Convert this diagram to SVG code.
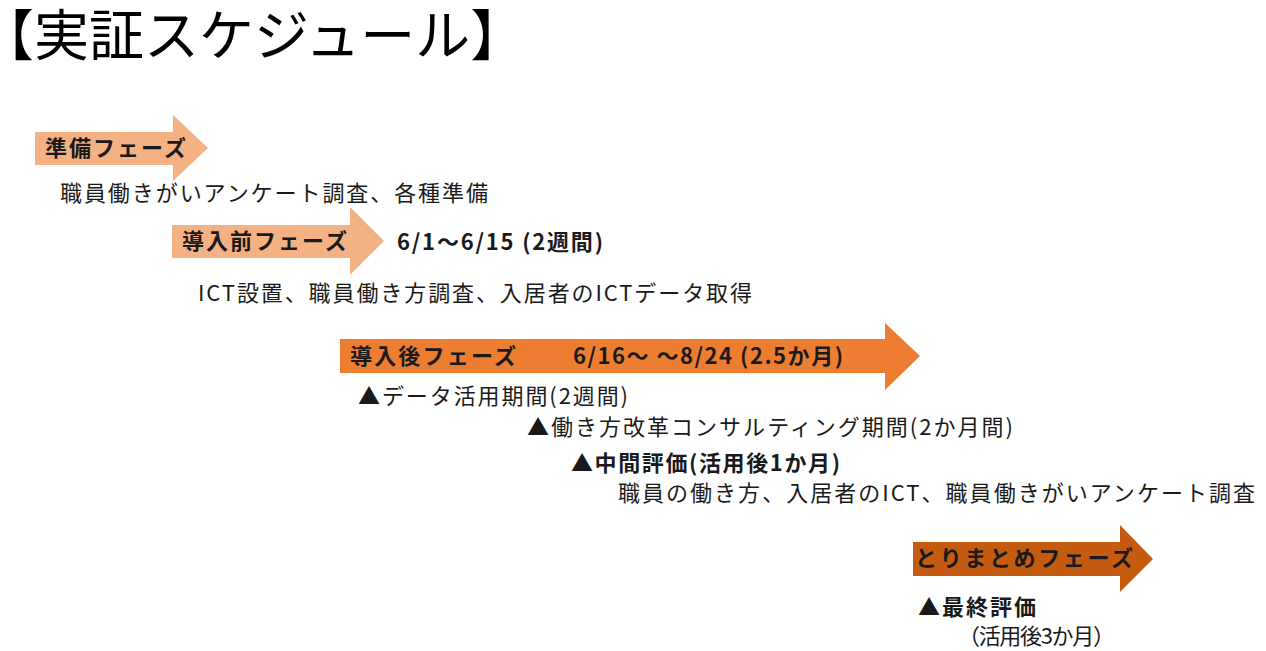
<svg xmlns="http://www.w3.org/2000/svg" width="1266" height="651" viewBox="0 0 1266 651">
<style>
text{font-family:"Noto Sans CJK JP","Noto Sans CJK SC",sans-serif;fill:#1a1a1a}
.b{font-weight:bold;font-size:22px}
.r{font-weight:normal;font-size:22px}
.t{font-size:55px;fill:#000}
.p1{fill:#F4B183}
.p3{fill:#ED7D31}
.p4{fill:#C55A11}
</style>
<rect width="1266" height="651" fill="#fff"/>
<g id="title"><text class="t" x="-21" y="55">【実証スケジュール】</text></g>
<g id="phase-prep">
<polygon class="p1" points="35,132 173,132 173,115 208,148 173,181 173,165 35,165"/>
<text class="b" x="45" y="156" textLength="141">準備フェーズ</text>
<text class="r" x="60" y="201" textLength="428">職員働きがいアンケート調査、各種準備</text>
</g>
<g id="phase-pre">
<polygon class="p1" points="172,225 350,225 350,207 384,241 350,275 350,258 172,258"/>
<text class="b" x="182" y="249" textLength="165">導入前フェーズ</text>
<text class="b" x="397" y="250" textLength="206">6/1〜6/15 (2週間)</text>
<text class="r" x="198" y="301" textLength="554">ICT設置、職員働き方調査、入居者のICTデータ取得</text>
</g>
<g id="phase-post">
<polygon class="p3" points="340,339 885,339 885,323 920,356 885,390 885,373 340,373"/>
<text class="b" x="350" y="364" textLength="166">導入後フェーズ</text>
<text class="b" x="573" y="364" textLength="270">6/16〜 〜8/24 (2.5か月)</text>
<text class="r" x="358" y="404" textLength="270">▲データ活用期間(2週間)</text>
<text class="r" x="527" y="435" textLength="486">▲働き方改革コンサルティング期間(2か月間)</text>
<text class="b" x="571" y="471" textLength="269">▲中間評価(活用後1か月)</text>
<text class="r" x="618" y="501" textLength="637">職員の働き方、入居者のICT、職員働きがいアンケート調査</text>
</g>
<g id="phase-summary">
<polygon class="p4" points="913,542 1120,542 1120,525 1153,559 1120,592 1120,576 913,576"/>
<text class="b" x="915" y="566" textLength="218">とりまとめフェーズ</text>
<text class="b" x="918" y="615" textLength="118">▲最終評価</text>
<text class="r" x="958" y="644" textLength="157">（活用後3か月）</text>
</g>
</svg>
